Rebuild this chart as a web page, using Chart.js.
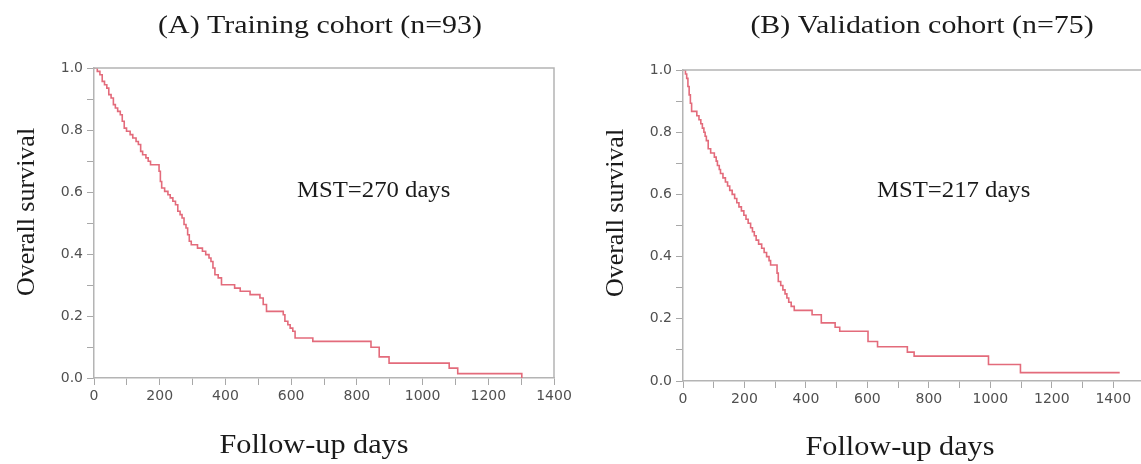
<!DOCTYPE html>
<html>
<head>
<meta charset="utf-8">
<title>Overall survival</title>
<script src="https://cdn.jsdelivr.net/npm/chart.js@4/dist/chart.umd.min.js"></script>
<style>
  html, body { margin: 0; padding: 0; background: #fff; overflow: hidden; }
  #wrap { position: relative; width: 1141px; height: 464px; overflow: hidden; }
  canvas { position: absolute; top: 0; }
</style>
</head>
<body>
<div id="wrap">
  <canvas id="chartA" width="575" height="464" style="left:0;width:575px;height:464px"></canvas>
  <canvas id="chartB" width="580" height="464" style="left:570px;width:580px;height:464px"></canvas>
</div>
<script>
// Kaplan-Meier steps, training cohort (n=93): day of drop, survival after the drop
const trainDays = [0, 10, 18, 25, 32, 39, 45, 52, 59, 65, 72, 80, 86, 92, 99, 110, 118, 128, 135, 142, 148, 158, 165, 172,
  198, 202, 206, 215, 225, 232, 240, 248, 255, 262, 268, 274, 280, 285, 290, 296, 315, 330, 340, 350, 356, 362, 368, 378, 388,
  428, 445, 475, 505, 515, 525, 576, 581, 590, 597, 605, 612, 666, 843, 868, 898, 1081, 1107, 1302];
const trainSurv = [1.0, 0.989, 0.978, 0.957, 0.946, 0.935, 0.914, 0.903, 0.882, 0.871, 0.860, 0.849, 0.828, 0.806, 0.796, 0.785, 0.774, 0.763, 0.753, 0.731, 0.720, 0.710, 0.699, 0.688,
  0.667, 0.634, 0.613, 0.602, 0.591, 0.581, 0.570, 0.559, 0.538, 0.527, 0.516, 0.495, 0.484, 0.462, 0.441, 0.430, 0.419, 0.409, 0.398, 0.387, 0.376, 0.355, 0.333, 0.323, 0.301,
  0.290, 0.280, 0.269, 0.258, 0.237, 0.215, 0.204, 0.183, 0.172, 0.161, 0.151, 0.129, 0.118, 0.099, 0.068, 0.048, 0.032, 0.014, 0.0];

// Kaplan-Meier steps, validation cohort (n=75)
const validDays = [0, 8, 12, 16, 20, 24, 28, 45, 52, 58, 63, 68, 72, 76, 82, 90, 102, 108, 112, 118, 122, 130, 138, 145, 152, 160,
  168, 175, 182, 190, 198, 205, 212, 220, 226, 232, 238, 246, 256, 264, 272, 280, 285, 306, 310, 318, 325, 332, 338, 344, 352, 362,
  420, 450, 495, 510, 602, 633, 730, 752, 994, 1098, 1421];
const validSurv = [1.0, 0.987, 0.973, 0.947, 0.920, 0.893, 0.867, 0.853, 0.840, 0.827, 0.813, 0.800, 0.787, 0.773, 0.747, 0.733, 0.720, 0.707, 0.693, 0.680, 0.667, 0.653, 0.640, 0.627, 0.613, 0.600,
  0.587, 0.573, 0.560, 0.547, 0.533, 0.520, 0.507, 0.493, 0.480, 0.467, 0.453, 0.440, 0.427, 0.413, 0.400, 0.387, 0.373, 0.347, 0.320, 0.307, 0.293, 0.280, 0.267, 0.253, 0.240, 0.227,
  0.213, 0.187, 0.173, 0.160, 0.127, 0.110, 0.093, 0.080, 0.053, 0.027, 0.027];

const titleA = '(A) Training cohort (n=93)';
const titleB = '(B) Validation cohort (n=75)';
const yTitle = 'Overall survival';
const xTitle = 'Follow-up days';
const mstA = 'MST=270 days';
const mstB = 'MST=217 days';

const lineColor = '#e36b7b';
const axisColor = '#b4b4b4';
const serif = '"Liberation Serif", "Times New Roman", serif';

// draws the top / right frame and the serif texts in canvas coordinates
const textPlugin = {
  id: 'kmText',
  afterDraw(chart, args, opts) {
    const ctx = chart.ctx;
    const area = chart.chartArea;
    ctx.save();
    ctx.strokeStyle = axisColor;
    ctx.lineWidth = 1.5;
    ctx.beginPath();
    ctx.moveTo(area.left, area.top);
    ctx.lineTo(area.right, area.top);
    ctx.lineTo(area.right, area.bottom);
    ctx.stroke();

    ctx.fillStyle = '#1a1a1a';
    ctx.textBaseline = 'alphabetic';
    opts.items.forEach(t => {
      ctx.save();
      ctx.font = t.size + 'px ' + serif;
      ctx.textAlign = t.align || 'center';
      ctx.translate(t.x, t.y);
      if (t.rotate) ctx.rotate(-Math.PI / 2);
      ctx.scale(t.sx || 1, 1);
      ctx.fillText(t.text, 0, 0);
      ctx.restore();
    });
    ctx.restore();
  }
};

function makeChart(id, days, surv, xMax, yAxisWidth, xAxisHeight, padTop, padRight, items) {
  const pts = days.map((d, i) => ({ x: d, y: surv[i] }));
  return new Chart(document.getElementById(id), {
    type: 'line',
    data: {
      datasets: [{
        data: pts,
        stepped: true,
        borderColor: lineColor,
        borderWidth: 1.6,
        pointRadius: 0,
        fill: false
      }]
    },
    options: {
      responsive: false,
      animation: false,
      layout: { padding: { top: padTop, right: padRight, left: 0, bottom: 0 } },
      plugins: {
        legend: { display: false },
        tooltip: { enabled: false },
        kmText: { items: items }
      },
      scales: {
        x: {
          type: 'linear',
          min: 0,
          max: xMax,
          afterFit: s => { s.height = xAxisHeight; },
          grid: { drawOnChartArea: false, tickLength: 7, tickColor: '#a8a8a8' },
          border: { color: axisColor, width: 1.5 },
          ticks: {
            stepSize: 100,
            includeBounds: false,
            autoSkip: false,
            maxRotation: 0,
            padding: 3,
            color: '#505050',
            font: { family: '"DejaVu Sans", sans-serif', size: 14 },
            callback: v => (v % 200 === 0 && v <= 1400) ? String(v) : ''
          }
        },
        y: {
          min: 0,
          max: 1,
          afterFit: s => { s.width = yAxisWidth; },
          grid: { drawOnChartArea: false, tickLength: 7, tickColor: '#a8a8a8' },
          border: { color: axisColor, width: 1.5 },
          ticks: {
            stepSize: 0.1,
            autoSkip: false,
            padding: 4,
            color: '#505050',
            font: { family: '"DejaVu Sans", sans-serif', size: 14 },
            callback: v => (Math.round(v * 10) % 2 === 0) ? v.toFixed(1) : ''
          }
        }
      }
    },
    plugins: [textPlugin]
  });
}

makeChart('chartA', trainDays, trainSurv, 1400, 94, 86, 68, 21, [
  { text: titleA, x: 320, y: 33, size: 26, sx: 1.15 },
  { text: yTitle, x: 34, y: 212, size: 26, rotate: true, sx: 1 },
  { text: xTitle, x: 314, y: 453, size: 27, sx: 1.12 },
  { text: mstA, x: 297, y: 197, size: 24, align: 'left', sx: 1.03 }
]);

makeChart('chartB', validDays, validSurv, 1500, 113, 83, 70, 6, [
  { text: titleB, x: 352, y: 33, size: 26, sx: 1.15 },
  { text: yTitle, x: 53, y: 213, size: 26, rotate: true, sx: 1 },
  { text: xTitle, x: 330, y: 455, size: 27, sx: 1.12 },
  { text: mstB, x: 307, y: 197, size: 24, align: 'left', sx: 1.03 }
]);
</script>
</body>
</html>
